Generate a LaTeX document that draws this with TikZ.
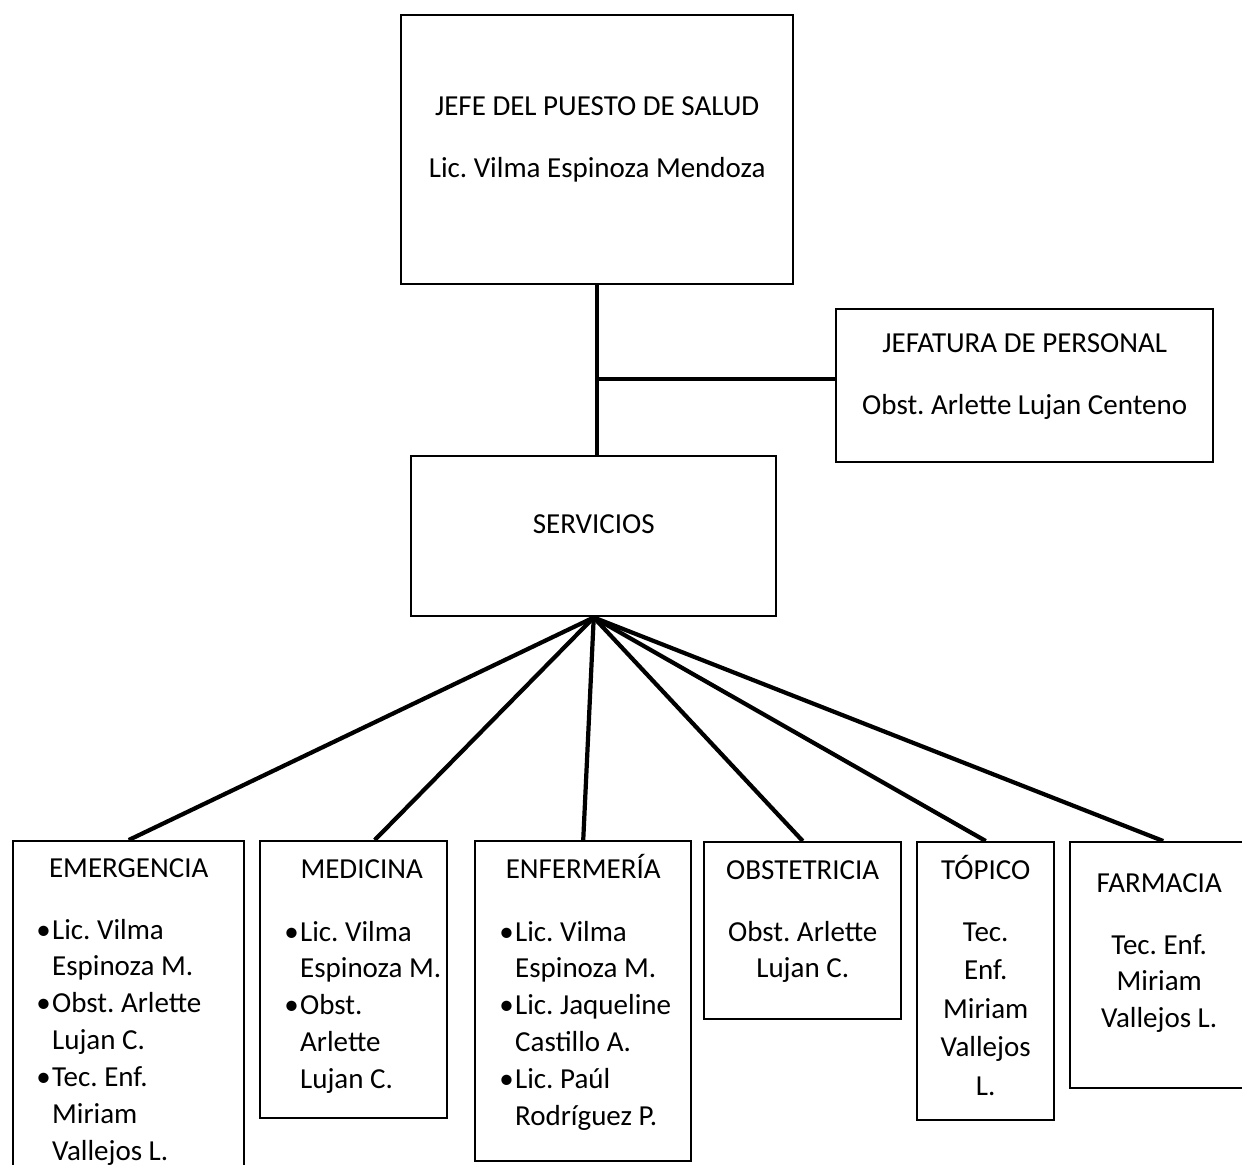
\documentclass[tikz,border=0pt]{standalone}
\usepackage{fontspec}
\setmainfont{Carlito}
\usetikzlibrary{positioning}

\tikzset{
  caja/.style={draw, line width=1.4pt, inner sep=0pt, anchor=north west},
  titulo/.style={inner sep=0pt, anchor=base},
  lista/.style={inner sep=0pt, anchor=base west},
  centrada/.style={inner sep=0pt, anchor=base},
  rama/.style={line width=2.4pt}
}
\newcommand{\vineta}{\makebox[9pt][l]{\textbullet}}

\begin{document}
\frenchspacing
\begin{tikzpicture}[font=\fontsize{16.5}{21}\selectfont]
        \useasboundingbox (0,0) rectangle (24.84,-23.28);

        % ==========================================
        % 1. Jefatura del puesto
        % ==========================================
        \node[caja, minimum width=7.84cm, minimum height=5.38cm] (jefe) at (8.00,-0.28) {};
        \node[titulo] (jefeA) at ([yshift=-2.02cm]jefe.north) {JEFE DEL PUESTO DE SALUD};
        \node[titulo] (jefeB) at ([yshift=-3.26cm]jefe.north) {Lic. Vilma Espinoza Mendoza};

        \node[caja, minimum width=7.54cm, minimum height=3.06cm] (pers) at (16.70,-6.16) {};
        \node[titulo] (persA) at ([yshift=-0.88cm]pers.north) {JEFATURA DE PERSONAL};
        \node[titulo] (persB) at ([yshift=-2.12cm]pers.north) {Obst. Arlette Lujan Centeno};

        \node[caja, minimum width=7.30cm, minimum height=3.20cm] (serv) at (8.20,-9.10) {};
        \node[titulo] (servA) at ([yshift=-1.56cm]serv.north) {SERVICIOS};

        % ==========================================
        % 2. Servicios
        % ==========================================
        \node[caja, minimum width=4.62cm, minimum height=6.80cm] (emer) at (0.24,-16.80) {};
        \node[titulo] (emerA) at ([yshift=-0.74cm]emer.north) {EMERGENCIA};
        \node[lista] (emerB) at ([xshift=0.48cm, yshift=-1.98cm]emer.north west) {%
          \begin{tabular}[t]{@{}l@{}l@{}}
            \vineta & Lic. Vilma\\ & Espinoza M.\\
            \vineta & Obst. Arlette\\ & Lujan C.\\
            \vineta & Tec. Enf.\\ & Miriam\\ & Vallejos L.
          \end{tabular}};

        \node[caja, minimum width=3.74cm, minimum height=5.54cm] (medi) at (5.18,-16.80) {};
        \node[titulo] (mediA) at ([xshift=0.16cm, yshift=-0.76cm]medi.north) {MEDICINA};
        \node[lista] (mediB) at ([xshift=0.50cm, yshift=-2.02cm]medi.north west) {%
          \begin{tabular}[t]{@{}l@{}l@{}}
            \vineta & Lic. Vilma\\ & Espinoza M.\\
            \vineta & Obst.\\ & Arlette\\ & Lujan C.
          \end{tabular}};

        \node[caja, minimum width=4.32cm, minimum height=6.40cm] (enfe) at (9.48,-16.80) {};
        \node[titulo] (enfeA) at ([yshift=-0.76cm]enfe.north) {ENFERMERÍA};
        \node[lista] (enfeB) at ([xshift=0.50cm, yshift=-2.02cm]enfe.north west) {%
          \begin{tabular}[t]{@{}l@{}l@{}}
            \vineta & Lic. Vilma\\ & Espinoza M.\\
            \vineta & Lic. Jaqueline\\ & Castillo A.\\
            \vineta & Lic. Paúl\\ & Rodríguez P.
          \end{tabular}};

        \node[caja, minimum width=3.94cm, minimum height=3.54cm] (obst) at (14.06,-16.82) {};
        \node[titulo] (obstA) at ([yshift=-0.76cm]obst.north) {OBSTETRICIA};
        \node[centrada] (obstB) at ([yshift=-2.00cm]obst.north) {%
          \begin{tabular}[t]{@{}c@{}}Obst. Arlette\\Lujan C.\end{tabular}};

        \node[caja, minimum width=2.74cm, minimum height=5.56cm] (topi) at (18.32,-16.82) {};
        \node[titulo] (topiA) at ([yshift=-0.76cm]topi.north) {TÓPICO};
        \node[centrada] (topiB) at ([yshift=-2.00cm]topi.north) {%
          \begin{tabular}[t]{@{}c@{}}Tec.\\[1pt]Enf.\\[1pt]Miriam\\[1pt]Vallejos\\[1pt]L.\end{tabular}};

        \node[caja, minimum width=3.72cm, minimum height=4.92cm] (farm) at (21.38,-16.82) {};
        \node[titulo] (farmA) at ([xshift=-0.08cm, yshift=-1.02cm]farm.north) {FARMACIA};
        \node[centrada] (farmB) at ([xshift=-0.08cm, yshift=-2.26cm]farm.north) {%
          \begin{tabular}[t]{@{}c@{}}Tec. Enf.\\Miriam\\Vallejos L.\end{tabular}};

        % ==========================================
        % 3. Conectores
        % ==========================================
        \draw[rama] (jefe.south) -- (jefe.south |- serv.north);
        \draw[rama] ([yshift=0.14cm]pers.west) -- ([yshift=0.14cm]pers.west -| jefe.south);

        \foreach \hijo in {emer, enfe, obst, topi, farm}
            \draw[rama] (serv.south) -- (\hijo.north);
        \draw[rama] (serv.south) -- ([xshift=0.42cm]medi.north);

    \end{tikzpicture}
\end{document}
